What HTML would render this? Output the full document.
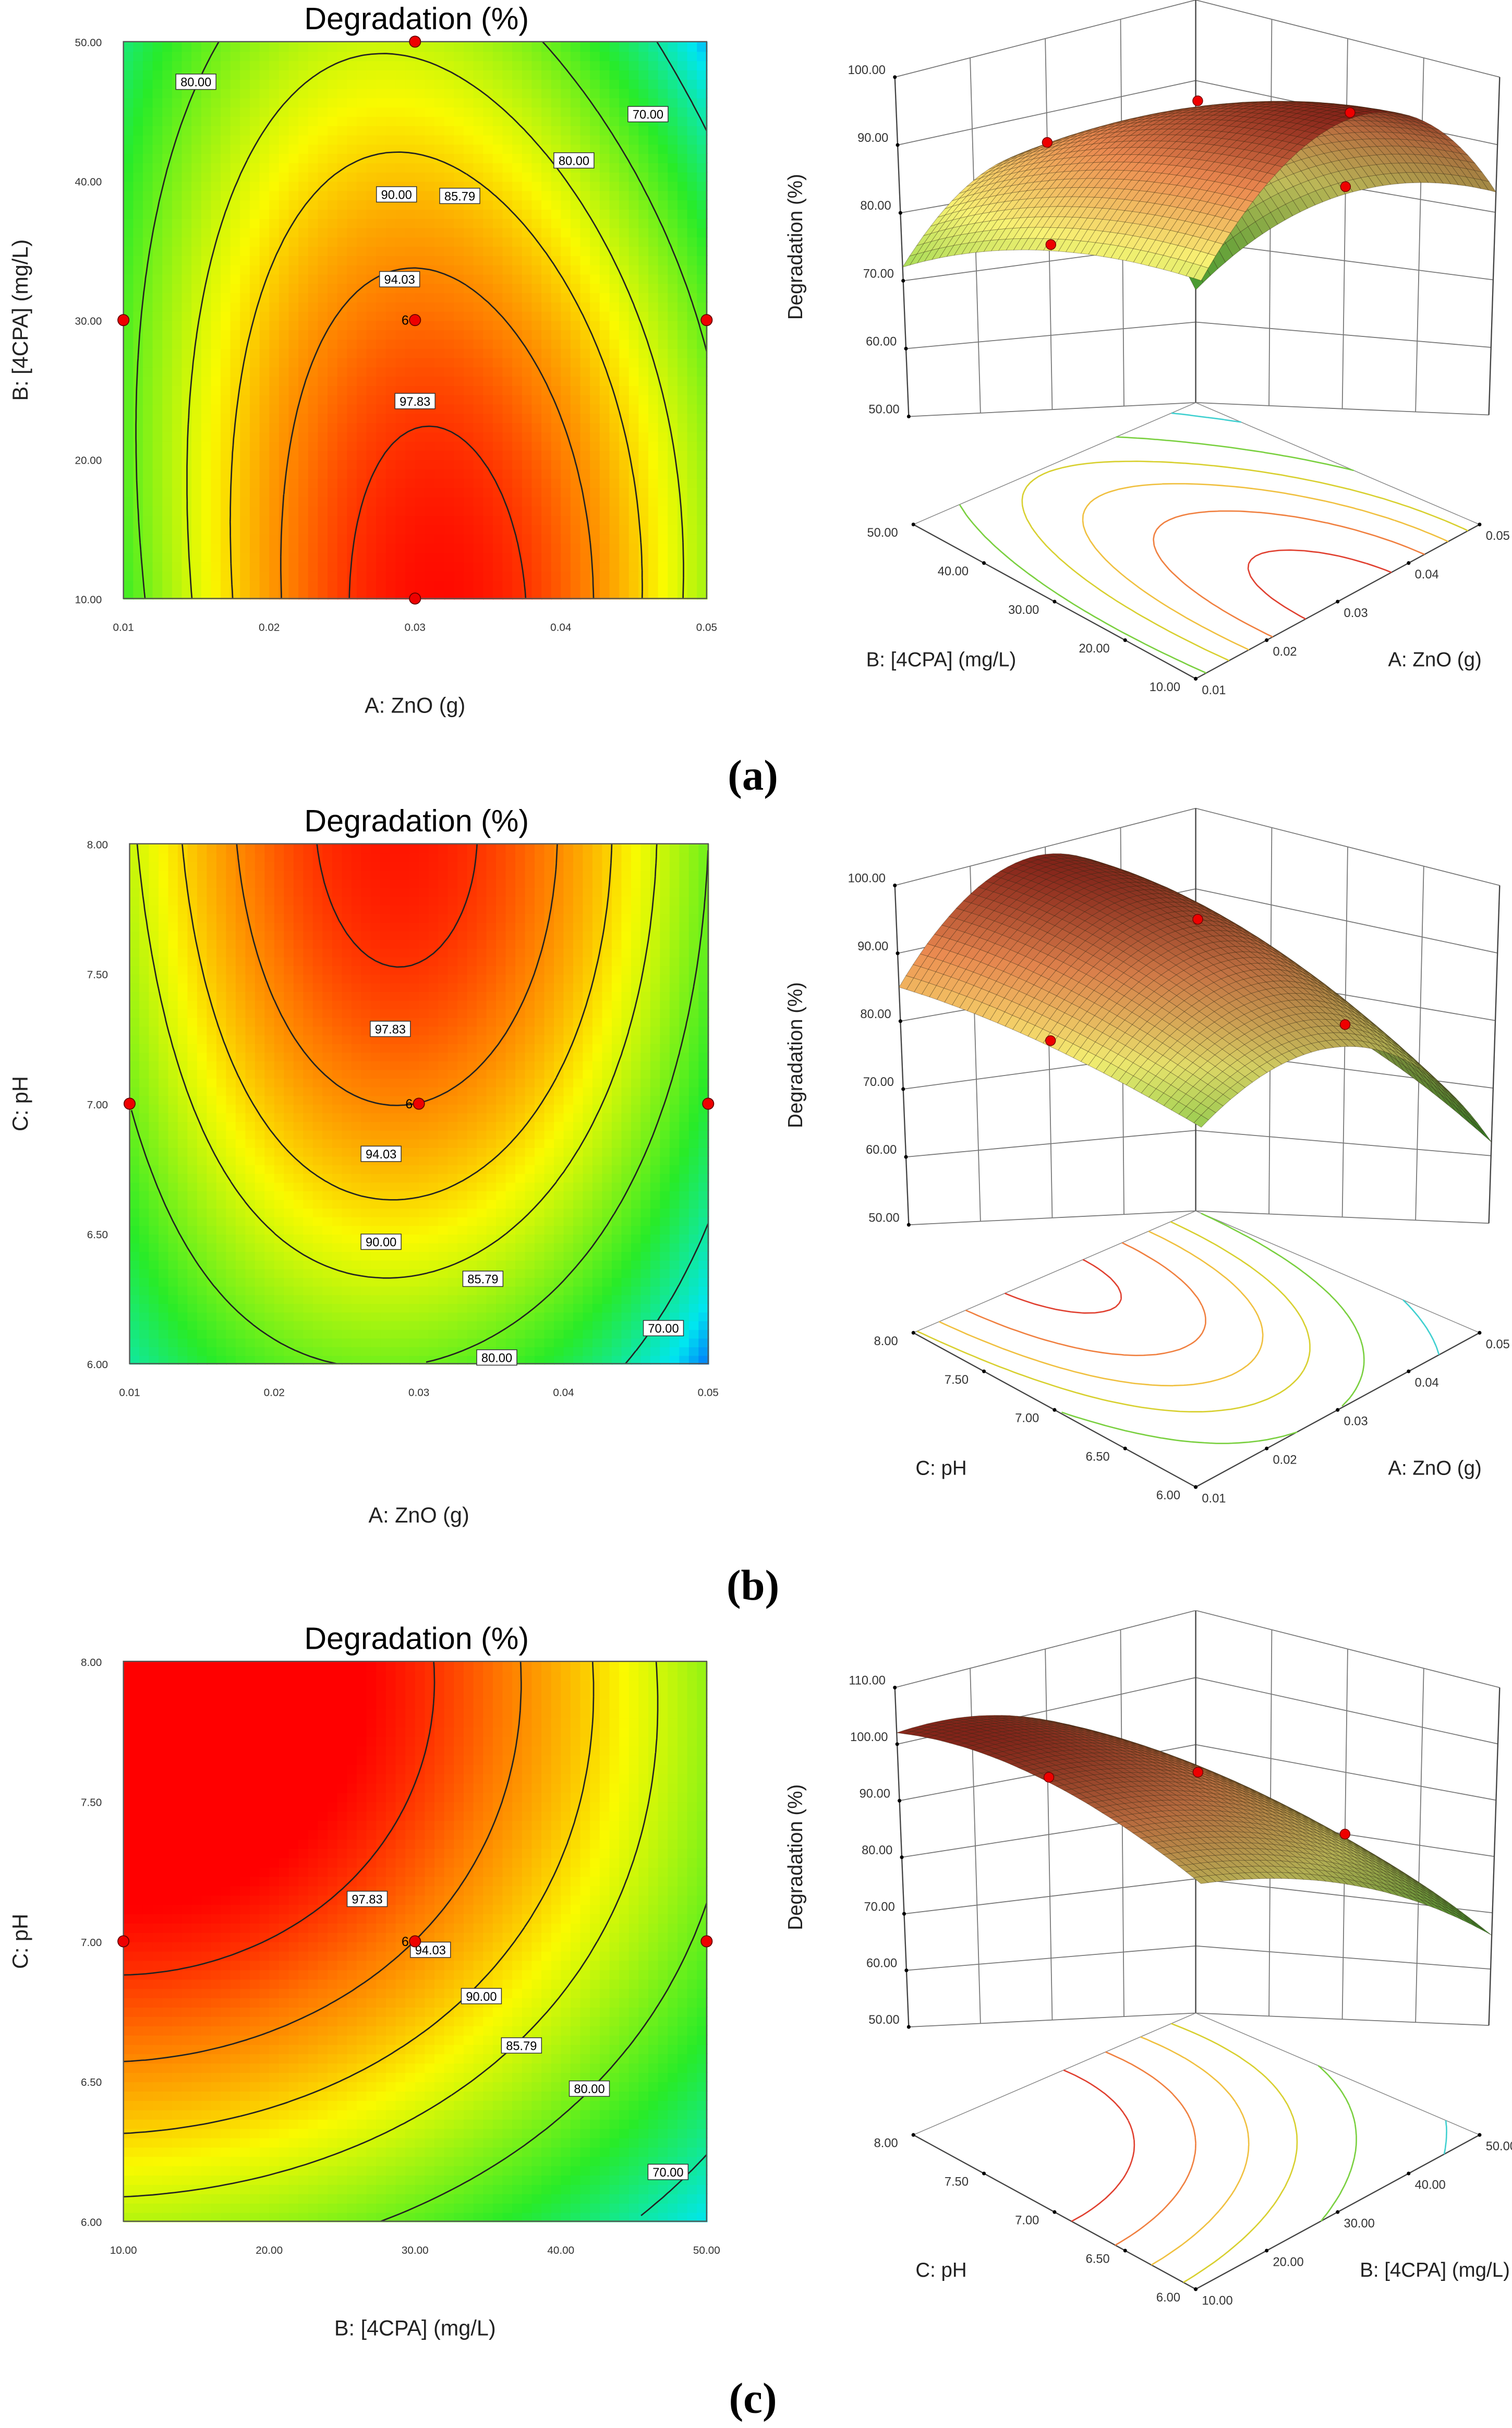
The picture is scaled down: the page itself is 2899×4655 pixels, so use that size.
<!DOCTYPE html>
<html><head><meta charset="utf-8"><style>
html,body{margin:0;padding:0;background:#fff}
svg{display:block}
text{font-family:"Liberation Sans",sans-serif}
</style></head><body>
<svg id="fig" xmlns="http://www.w3.org/2000/svg" width="2899" height="4655" viewBox="0 0 980 1574" preserveAspectRatio="none">
<defs>
<clipPath id="c0"><rect x="470" y="0" width="510" height="478"/></clipPath>
<clipPath id="c1"><rect x="470" y="522" width="510" height="480"/></clipPath>
<clipPath id="c2"><rect x="470" y="1044" width="510" height="486"/></clipPath>
</defs>
<text x="488" y="512" font-size="28" font-weight="bold" text-anchor="middle" style="font-family:'Liberation Serif',serif">(a)</text>
<text x="488" y="1037" font-size="28" font-weight="bold" text-anchor="middle" style="font-family:'Liberation Serif',serif">(b)</text>
<text x="488" y="1564" font-size="28" font-weight="bold" text-anchor="middle" style="font-family:'Liberation Serif',serif">(c)</text>
</svg>
<script>
// ---- data: response values at low/mid/high levels [y][x] ----
const valsA = [[77,99.5,83],[78,95.5,79],[72,85,64]];   // x: ZnO, y: 4CPA
const valsB = [[70,80,62],[80,94,75],[85,99,80]];     // x: ZnO, y: pH
const valsC = [[84,79,66],[99,94,79],[102,98.5,82]];  // x: 4CPA, y: pH
const xTicksA = ["0.01","0.02","0.03","0.04","0.05"];
const yTicksA = ["10.00","20.00","30.00","40.00","50.00"];
const xTicksB = ["0.01","0.02","0.03","0.04","0.05"];
const yTicksB = ["6.00","6.50","7.00","7.50","8.00"];
const xTicksC = ["10.00","20.00","30.00","40.00","50.00"];
const yTicksC = ["6.00","6.50","7.00","7.50","8.00"];
const zTicksAB = [50,60,70,80,90,100];
const zTicksC = [50,60,70,80,90,100,110];
const levels = [70,80,85.79,90,94.03,97.83];
const designA = [[0,0.5],[0.5,1],[1,0.5],[0.5,0],[0.5,0.5]];
const designB = [[0,0.5],[1,0.5],[0.5,0.5]];
const designC = [[0,0.5],[1,0.5],[0.5,0.5]];

const NS="http://www.w3.org/2000/svg";
const svg=document.getElementById('fig');
function mk(tag,attrs,parent){const e=document.createElementNS(NS,tag);for(const k in attrs)e.setAttribute(k,attrs[k]);(parent||svg).appendChild(e);return e;}
function L(u){return [2*(u-0.5)*(u-1),-4*u*(u-1),2*u*(u-0.5)];}
function model(v,u,w){const a=L(u),b=L(w);let s=0;for(let j=0;j<3;j++)for(let i=0;i<3;i++)s+=v[j][i]*a[i]*b[j];return s;}
function lerp(a,b,t){return a+(b-a)*t;}
function bil(c00,c10,c11,c01,u,w){return c00*(1-u)*(1-w)+c10*u*(1-w)+c11*u*w+c01*(1-u)*w;}
function cmap(v){
  const st=[[60,[0,60,255]],[66,[0,230,240]],[76,[40,235,40]],[88,[250,250,0]],[95,[255,120,0]],[100,[255,0,0]]];
  if(v<=st[0][0])return 'rgb(0,60,255)';
  for(let i=1;i<st.length;i++){if(v<=st[i][0]){const t=(v-st[i-1][0])/(st[i][0]-st[i-1][0]);const a=st[i-1][1],b=st[i][1];return `rgb(${Math.round(lerp(a[0],b[0],t))},${Math.round(lerp(a[1],b[1],t))},${Math.round(lerp(a[2],b[2],t))})`;}}
  return 'rgb(255,0,0)';
}
function contourSegs(v,N,lev){
  const segs=[];const g=[];
  for(let j=0;j<=N;j++){g.push([]);for(let i=0;i<=N;i++)g[j].push(model(v,i/N,j/N));}
  for(let j=0;j<N;j++)for(let i=0;i<N;i++){
    const c=[[i,j,g[j][i]],[i+1,j,g[j][i+1]],[i+1,j+1,g[j+1][i+1]],[i,j+1,g[j+1][i]]];
    const pts=[];
    for(let k=0;k<4;k++){const p=c[k],q=c[(k+1)%4];if((p[2]-lev)*(q[2]-lev)<0){const t=(lev-p[2])/(q[2]-p[2]);pts.push([lerp(p[0],q[0],t)/N,lerp(p[1],q[1],t)/N]);}}
    if(pts.length>=2)segs.push([pts[0],pts[1]]);
    if(pts.length==4)segs.push([pts[2],pts[3]]);
  }
  return segs;
}
const panels=[
 {v:valsA,xt:xTicksA,yt:yTicksA,x0:80,x1:458,y0:27,y1:388,title:19,xl:"A: ZnO (g)",yl:"B: [4CPA] (mg/L)",xly:462,design:designA,
  labels:[[127,53,"80.00"],[298,127,"85.79"],[257,126,"90.00"],[259,181,"94.03"],[269,260,"97.83"],[372,104,"80.00"],[420,74,"70.00"]],
  d3:{oy:0,ks:1,zt:zTicksAB,clip:'c0',lx:"B: [4CPA] (mg/L)",rx:"A: ZnO (g)"}},
 {v:valsB,xt:xTicksB,yt:yTicksB,x0:84,x1:459,y0:547,y1:884,title:539,xl:"A: ZnO (g)",yl:"C: pH",xly:987,design:designB,
  labels:[[253,667,"97.83"],[247,748,"94.03"],[247,805,"90.00"],[313,829,"85.79"],[322,880,"80.00"],[430,861,"70.00"]],
  d3:{oy:524,ks:1,zt:zTicksAB,clip:'c1',lx:"C: pH",rx:"A: ZnO (g)"}},
 {v:valsC,xt:xTicksC,yt:yTicksC,x0:80,x1:458,y0:1077,y1:1440,title:1069,xl:"B: [4CPA] (mg/L)",yl:"C: pH",xly:1514,design:designC,
  labels:[[238,1231,"97.83"],[279,1264,"94.03"],[312,1294,"90.00"],[338,1326,"85.79"],[382,1354,"80.00"],[433,1408,"70.00"]],
  d3:{oy:1044,ks:5/6,zt:zTicksC,clip:'c2',lx:"C: pH",rx:"B: [4CPA] (mg/L)"}}
];
const names=['a','b','c'];
panels.forEach((P,pi)=>{
  const n=names[pi];
  const g=mk('g',{});
  
  
  const W=P.x1-P.x0,H=P.y1-P.y0,N=60;
  const X=u=>P.x0+u*W, Y=w=>P.y1-w*H;
  for(let j=0;j<N;j++)for(let i=0;i<N;i++){
    const val=model(P.v,(i+0.5)/N,(j+0.5)/N);
    const r=mk('rect',{x:X(i/N).toFixed(2),y:Y((j+1)/N).toFixed(2),width:(W/N+0.6).toFixed(2),height:(H/N+0.6).toFixed(2),fill:cmap(val)},g);
    
    
  }
  levels.forEach(lev=>{
    let d='';contourSegs(P.v,80,lev).forEach(s=>{d+=`M${X(s[0][0]).toFixed(1)},${Y(s[0][1]).toFixed(1)}L${X(s[1][0]).toFixed(1)},${Y(s[1][1]).toFixed(1)}`;});
    const p=mk('path',{d:d,stroke:'#222',fill:'none','stroke-width':0.9},g);
    
    
  });
  mk('rect',{x:P.x0,y:P.y0,width:W,height:H,fill:'none',stroke:'#555','stroke-width':0.8},g);
  P.labels.forEach(l=>{
    const lg=mk('g',{},g);
    
    
    mk('rect',{x:l[0]-13,y:l[1]-5,width:26,height:10,fill:'#fff',stroke:'#333','stroke-width':0.5},lg);
    const t=mk('text',{x:l[0],y:l[1]+3,'font-size':8,'text-anchor':'middle',fill:'#000'},lg);t.textContent=l[2];
  });
  P.design.forEach(d=>{
    const c=mk('circle',{cx:X(d[0]),cy:Y(d[1]),r:3.6,fill:'#e00',stroke:'#600','stroke-width':0.6},g);
    
    
  });
  const cp=P.design[P.design.length-1];
  const t6=mk('text',{x:X(cp[0])-4,y:Y(cp[1])+3,'font-size':8.5,'text-anchor':'end'},g);t6.textContent='6';
  P.xt.forEach((t,i)=>{const e=mk('text',{x:X(i/4),y:P.y1+21,'font-size':7,'text-anchor':'middle',fill:'#333'},g);e.textContent=t;
    });
  P.yt.forEach((t,i)=>{const e=mk('text',{x:P.x0-14,y:Y(i/4)+3,'font-size':7,'text-anchor':'end',fill:'#333'},g);e.textContent=t;
    });
  const tt=mk('text',{x:270,y:P.title,'font-size':20,'text-anchor':'middle'},g);tt.textContent='Degradation (%)';
  
  const xl=mk('text',{x:(P.x0+P.x1)/2,y:P.xly,'font-size':14,'text-anchor':'middle',fill:'#222'},g);xl.textContent=P.xl;
  
  const cy=(P.y0+P.y1)/2;
  const yl=mk('text',{x:18,y:cy,'font-size':14,'text-anchor':'middle',fill:'#222',transform:`rotate(-90 18 ${cy})`},g);yl.textContent=P.yl;
  

  // ---- 3D surface (approximate perspective) ----
  const D=P.d3, oy=D.oy, ks=D.ks;
  const zt=D.zt, ztop=zt[zt.length-1];
  const g3=mk('g',{'clip-path':`url(#${D.clip})`});
  
  
  const F=(u,w)=>[bil(775,959,775,592,u,w), oy+bil(440,340,261,340,u,w)];
  const S=(u,w,z)=>{
    const bx=bil(779,965,775,589,u,w), by=oy+bil(278,269,261,270,u,w);
    const k=bil(3.56,4.38,5.22,4.4,u,w)*ks, dx=bil(-0.02,0.14,0,-0.18,u,w)*ks;
    return [bx+dx*(z-50), by-k*(z-50)];
  };
  const line=(a,b,col,sw)=>mk('line',{x1:a[0].toFixed(1),y1:a[1].toFixed(1),x2:b[0].toFixed(1),y2:b[1].toFixed(1),stroke:col||'#666','stroke-width':sw||0.7},g3);
  zt.forEach(z=>{line(S(0,1,z),S(1,1,z),'#777',0.6);line(S(1,1,z),S(1,0,z),'#777',0.6);});
  for(let k=0;k<=4;k++){line(S(k/4,1,50),S(k/4,1,ztop),'#777',0.6);line(S(1,k/4,50),S(1,k/4,ztop),'#777',0.6);}
  line(S(0,1,50),S(0,1,ztop),'#444',0.8);line(S(1,0,50),S(1,0,ztop),'#444',0.8);line(S(1,1,50),S(1,1,ztop),'#444',0.8);
  line(F(0,0),F(0,1),'#444',0.8);line(F(0,0),F(1,0),'#444',0.8);
  line(F(0,1),F(1,1),'#888',0.5);line(F(1,0),F(1,1),'#888',0.5);
  zt.forEach(z=>{const p=S(0,1,z);mk('circle',{cx:p[0],cy:p[1],r:1.2,fill:'#000'},g3);
    const e=mk('text',{x:p[0]-6,y:p[1]-2,'font-size':8,'text-anchor':'end',fill:'#333'},g3);e.textContent=z.toFixed(2);
    });
  P.yt.forEach((t,i)=>{const p=F(0,i/4);mk('circle',{cx:p[0],cy:p[1],r:1.2,fill:'#000'},g3);
    const e=mk('text',{x:p[0]-10,y:p[1]+8,'font-size':8,'text-anchor':'end',fill:'#333'},g3);e.textContent=t;
    });
  P.xt.forEach((t,i)=>{const p=F(i/4,0);mk('circle',{cx:p[0],cy:p[1],r:1.2,fill:'#000'},g3);
    const e=mk('text',{x:p[0]+4,y:p[1]+10,'font-size':8,'text-anchor':'start',fill:'#333'},g3);e.textContent=t;
    });
  const zy=oy+160, zx=520;
  const ze=mk('text',{x:zx,y:zy,'font-size':13,'text-anchor':'middle',fill:'#222',transform:`rotate(-90 ${zx} ${zy})`},g3);ze.textContent='Degradation (%)';
  
  const le=mk('text',{x:610,y:oy+432,'font-size':13,'text-anchor':'middle',fill:'#222'},g3);le.textContent=D.lx;
  
  const re=mk('text',{x:930,y:oy+432,'font-size':13,'text-anchor':'middle',fill:'#222'},g3);re.textContent=D.rx;
  
  const lc=['#40d0d0','#7ad040','#d8d030','#f0c040','#f08040','#e04030'];
  levels.forEach((lev,li)=>{
    let d='';contourSegs(P.v,50,lev).forEach(s=>{const a=F(s[0][0],s[0][1]),b=F(s[1][0],s[1][1]);d+=`M${a[0].toFixed(1)},${a[1].toFixed(1)}L${b[0].toFixed(1)},${b[1].toFixed(1)}`;});
    const p=mk('path',{d:d,stroke:lc[li],fill:'none','stroke-width':0.9},g3);
    
    
  });
  const M=40;const quads=[];
  let zmin=1e9,zmax=-1e9;
  for(let j=0;j<=M;j++)for(let i=0;i<=M;i++){const z=model(P.v,i/M,j/M);zmin=Math.min(zmin,z);zmax=Math.max(zmax,z);}
  for(let j=0;j<M;j++)for(let i=0;i<M;i++)quads.push([i,j]);
  quads.sort((a,b)=>(b[0]+b[1])-(a[0]+a[1]));
  const sg=mk('g',{},g3);
  
  
  const sc=[[0,[70,170,50]],[0.45,[215,210,100]],[0.75,[205,120,70]],[1,[130,35,25]]];
  function scol(t,sh){let c=sc[0][1];for(let i=1;i<sc.length;i++){if(t<=sc[i][0]){const f=(t-sc[i-1][0])/(sc[i][0]-sc[i-1][0]);const a=sc[i-1][1],b=sc[i][1];c=[lerp(a[0],b[0],f),lerp(a[1],b[1],f),lerp(a[2],b[2],f)];break;}c=sc[i][1];}
    return `rgb(${Math.min(255,Math.round(c[0]*sh))},${Math.min(255,Math.round(c[1]*sh))},${Math.min(255,Math.round(c[2]*sh))})`;}
  quads.forEach(([i,j])=>{
    const u0=i/M,u1=(i+1)/M,w0=j/M,w1=(j+1)/M;
    const z00=model(P.v,u0,w0),z10=model(P.v,u1,w0),z11=model(P.v,u1,w1),z01=model(P.v,u0,w1);
    const pts=[S(u0,w0,z00),S(u1,w0,z10),S(u1,w1,z11),S(u0,w1,z01)];
    const zc=(z00+z10+z11+z01)/4;
    const sl=((z10-z00)-(z01-z00))*0.25;
    const sh=Math.max(0.55,Math.min(1.15,1+sl*0.5));
    mk('polygon',{points:pts.map(p=>p[0].toFixed(1)+','+p[1].toFixed(1)).join(' '),fill:scol((zc-zmin)/(zmax-zmin),sh),stroke:'rgba(40,30,10,0.4)','stroke-width':0.3},sg);
  });
  P.design.forEach(d=>{
    const z=model(P.v,d[0],d[1])+1;const p=S(d[0],d[1],z);
    const c=mk('circle',{cx:p[0],cy:p[1],r:3.2,fill:'#e00',stroke:'#700','stroke-width':0.5},g3);
    
    
  });
});
</script>
</body></html>
